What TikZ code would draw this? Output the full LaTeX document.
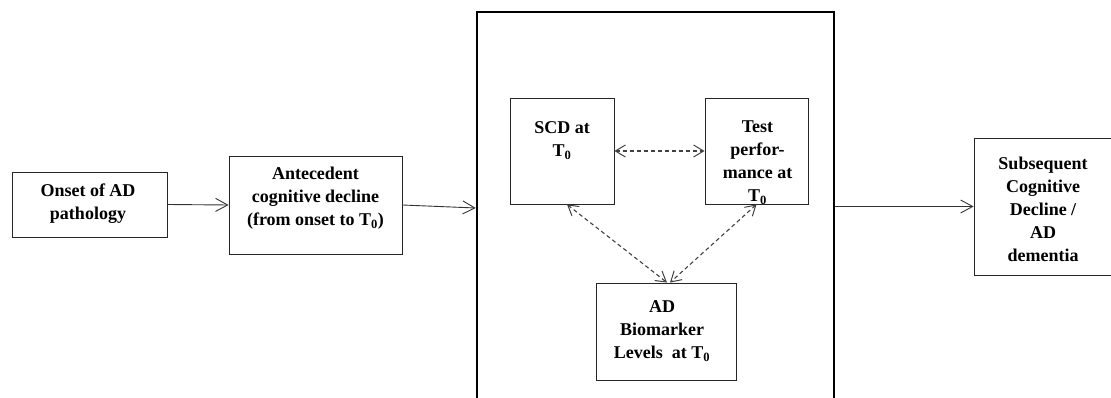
\documentclass[tikz,border=0pt]{standalone}
\usepackage{fontspec}
\setmainfont{Liberation Serif}
\usetikzlibrary{arrows.meta}
\tikzset{
  box/.style={draw=black!85, line width=0.9pt, rectangle, inner sep=0pt},
  bigbox/.style={draw=black, line width=2.6pt, rectangle, inner sep=0pt},
  txt/.style={font=\fontsize{18}{23}\selectfont\bfseries, align=center, inner sep=0pt, text=black},
  flow/.style={draw=black!80, line width=0.9pt, -{Straight Barb[length=12pt,width=13pt,line width=0.9pt]}},
  assoc/.style={draw=black!75, line width=1.1pt, dash pattern=on 4pt off 3pt,
    {Straight Barb[length=10pt,width=12pt,line width=1pt]}-{Straight Barb[length=10pt,width=12pt,line width=1pt]}}
}
\begin{document}
\begin{tikzpicture}[x=1pt,y=-1pt]
\useasboundingbox (0,0) rectangle (1111,398);
\clip (0,0) rectangle (1111,398);
% boxes
\node[box, minimum width=155pt, minimum height=65pt] (onset) at (89.5,204.5) {};
\node[txt] (onsetT) at (88,203.5) {Onset of AD\\pathology};
\node[box, minimum width=173pt, minimum height=98pt] (ante) at (315.5,205) {};
\node[txt] (anteT) at (315.5,198.5) {Antecedent\\cognitive decline\\(from onset to T\textsubscript{0})};
\node[bigbox, minimum width=357pt, minimum height=392pt] (big) at (655.5,208) {};
\node[box, minimum width=104pt, minimum height=106pt] (scd) at (562,151) {};
\node[txt] (scdT) at (562,140.5) {SCD at\\T\textsubscript{0}};
\node[box, minimum width=103pt, minimum height=106pt] (test) at (756.5,151) {};
\node[txt] (testT) at (757.5,162.5) {Test\\perfor-\\mance at\\T\textsubscript{0}};
\node[box, minimum width=140pt, minimum height=97pt] (bio) at (666,331.5) {};
\node[txt] (bioT) at (662,331) {AD\\Biomarker\\Levels\ \ at T\textsubscript{0}};
\node[box, minimum width=142pt, minimum height=137pt] (subs) at (1045,206.5) {};
\node[txt] (subsT) at (1043,209) {Subsequent\\Cognitive\\Decline /\\AD\\dementia};
% connectors
\draw[flow] (onset.east) -- (ante.west);
\draw[flow] (ante.east) -- (big.west);
\draw[flow] (big.east |- subs.west) -- (subs.west);
\draw[assoc] (scd.east) -- (test.west);
\draw[assoc] ([xshift=5pt]scd.south) -- ([xshift=1pt]bio.north);
\draw[assoc] (test.south) -- ([xshift=4pt]bio.north);
\end{tikzpicture}
\end{document}
